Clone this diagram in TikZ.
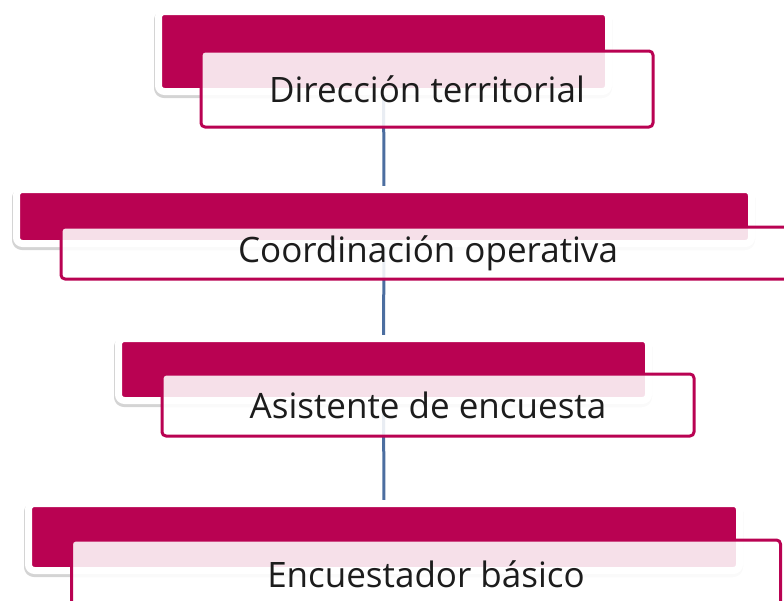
\documentclass[tikz,border=0pt]{standalone}
\usepackage{fontspec}
\setmainfont{Open Sans}
\usetikzlibrary{shadows,backgrounds}

\definecolor{barmagenta}{RGB}{185,2,82}
\definecolor{linkblue}{RGB}{76,110,160}
\definecolor{textdark}{RGB}{28,28,28}

\begin{document}
\begin{tikzpicture}[
  x=1pt,y=-1pt,
  line cap=round,line join=round,
  backbar/.style={rectangle,fill=barmagenta,draw=white,line width=7pt,
    rounded corners=6pt,inner sep=0pt,
    drop shadow={shadow xshift=-0.5pt,shadow yshift=-2.5pt,fill=black,
      draw=black,line width=8pt,opacity=0.17}},
  titlebox/.style={rectangle,fill=white,fill opacity=0.88,draw opacity=1,
    text opacity=1,draw=barmagenta,line width=3pt,rounded corners=4pt,
    inner sep=0pt,text=textdark,font=\fontsize{35}{40}\selectfont},
  link/.style={draw=linkblue,line width=3pt}
]
  \useasboundingbox (0,0) rectangle (784,600);
  \clip (0,0) rectangle (784,600);

  % Back bars
  \node[backbar,minimum width=450,minimum height=80] (dirbar) at (383.5,51.5) {};
  \node[backbar,minimum width=735,minimum height=54] (coordbar) at (384,216.5) {};
  \node[backbar,minimum width=530,minimum height=62] (asistbar) at (383.5,369.5) {};
  \node[backbar,minimum width=711,minimum height=67] (encbar) at (384,537) {};

  % Title boxes
  \node[titlebox,minimum width=452,minimum height=76] (dir) at (427,89) {Dirección territorial};
  \node[titlebox,minimum width=734,minimum height=52] (coord) at (428,253) {Coordinación operativa};
  \node[titlebox,minimum width=532,minimum height=62] (asist) at (428,405) {Asistente de encuesta};
  \node[titlebox,minimum width=709,minimum height=68] (enc) at (426,574) {Encuestador básico};

  % Links
  \begin{pgfonlayer}{background}
    \foreach \a/\b in {dir/coord,coord/asist,asist/enc}{
      \draw[link] (\a bar.center) -- (\b bar.center);
    }
  \end{pgfonlayer}
\end{tikzpicture}
\end{document}
